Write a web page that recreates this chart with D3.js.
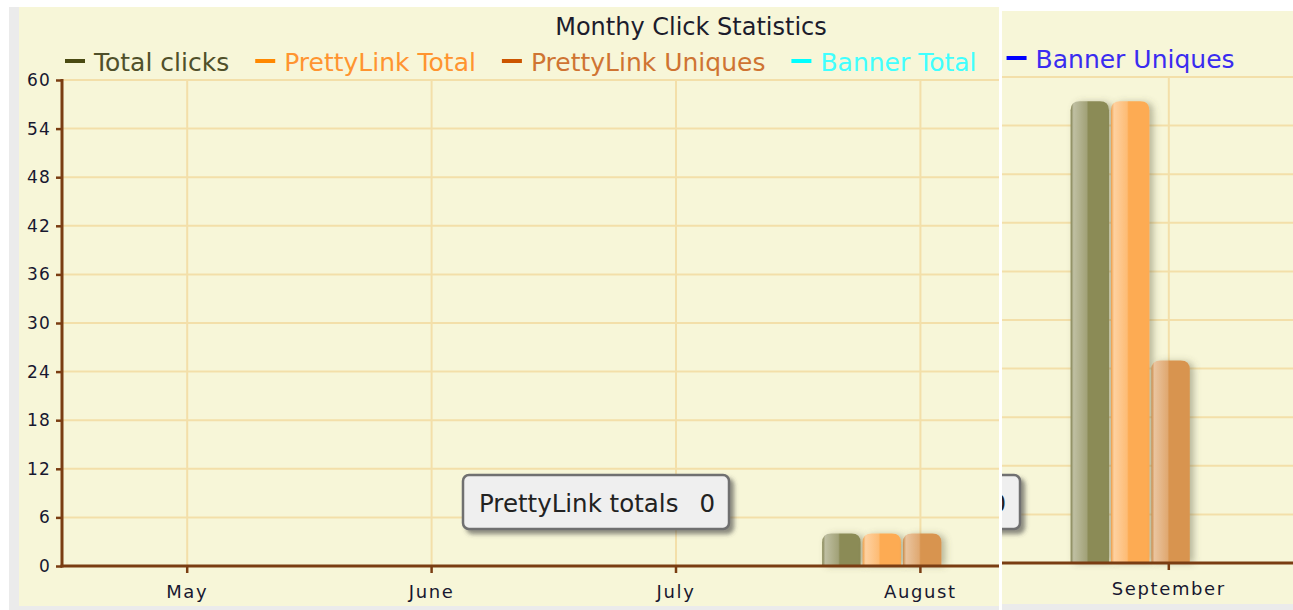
<!DOCTYPE html>
<html lang="en">
<head>
  <meta charset="utf-8">
  <title>Monthy Click Statistics</title>
  <script src="https://d3js.org/d3.v7.min.js"></script>
  <style>
    body { margin: 0; background: #fff; }
    svg text { font-family: "DejaVu Sans", Verdana, sans-serif; }
  </style>
</head>
<body>
  <div id="chart"></div>

  <script>
    "use strict"
    // dados
    var meses = ["May", "June", "July", "August", "September"];
    var nomesSeries = ["Total clicks", "PrettyLink Total", "PrettyLink Uniques", "Banner Total", "Banner Uniques"];
    var totalClicks = [0, 0, 0, 4, 57];
    var prettyLinkTotal = [0, 0, 0, 4, 57];
    var prettyLinkUniques = [0, 0, 0, 4, 25];
    var bannerTotal = [0, 0, 0, 0, 0];
    var bannerUniques = [0, 0, 0, 0, 0];
    var yTicks = [0, 6, 12, 18, 24, 30, 36, 42, 48, 54, 60];
    var tituloGrafico = "Monthy Click Statistics";
    var tooltipTexto = "PrettyLink totals";
    var tooltipValor = 0;

    var coresBarra = ["#8b8b56", "#fdab52", "#d8944f", "#00ffff", "#0000ff"];
    var coresTraco = ["#4a4a12", "#ff8800", "#cc5500", "#00ffff", "#0000ff"];
    var coresTexto = ["#50502a", "#ff9430", "#cf7432", "#40ffff", "#3a2cf0"];

    var valores = [totalClicks, prettyLinkTotal, prettyLinkUniques, bannerTotal, bannerUniques];

    var svg = d3.select('#chart').append('svg')
      .attr('width', 1293)
      .attr('height', 610);

    var defs = svg.append('defs');

    // brilho das barras
    coresBarra.forEach(function (cor, i) {
      var claro = d3.interpolateRgb(cor, "#ffffff");
      var grad = defs.append('linearGradient')
        .attr('id', 'grad' + i)
        .attr('x1', 0).attr('x2', 1).attr('y1', 0).attr('y2', 0);
      grad.append('stop').attr('offset', 0).attr('stop-color', d3.color(cor).darker(0.2));
      grad.append('stop').attr('offset', 0.08).attr('stop-color', claro(0.45));
      grad.append('stop').attr('offset', 0.42).attr('stop-color', claro(0.2));
      grad.append('stop').attr('offset', 0.46).attr('stop-color', cor);
      grad.append('stop').attr('offset', 1).attr('stop-color', cor);
    });

    var sombraBarra = defs.append('filter').attr('id', 'sombraBarra')
      .attr('x', -0.3).attr('y', -0.3).attr('width', 1.6).attr('height', 1.6);
    sombraBarra.append('feDropShadow')
      .attr('dx', 4).attr('dy', 1).attr('stdDeviation', 3.5)
      .attr('flood-color', '#5a5a40').attr('flood-opacity', 0.4);

    var sombraTip = defs.append('filter').attr('id', 'sombraTip')
      .attr('x', -0.2).attr('y', -0.3).attr('width', 1.4).attr('height', 1.7);
    sombraTip.append('feDropShadow')
      .attr('dx', 4).attr('dy', 4).attr('stdDeviation', 2)
      .attr('flood-color', '#444').attr('flood-opacity', 0.6);

    // escalas (coordenadas do primeiro quadro)
    var x0 = d3.scaleBand().domain(meses).range([65, 1287]);
    var x1 = d3.scaleBand().domain(nomesSeries).range([24, 224]).paddingInner(0.05);
    var y = d3.scaleLinear().domain([0, 60]).range([566, 80]);

    var corEixo = "#7a3d12", corGrade = "#f3dfa9", corFundo = "#f7f6d8", corCinza = "#ebebeb";

    function barra(xe, larg, topo, base, r) {
      r = Math.min(r, larg / 2, (base - topo) / 2);
      return "M" + xe + "," + base +
        "V" + (topo + r) +
        "Q" + xe + "," + topo + " " + (xe + r) + "," + topo +
        "H" + (xe + larg - r) +
        "Q" + (xe + larg) + "," + topo + " " + (xe + larg) + "," + (topo + r) +
        "V" + base + "Z";
    }

    function desenhaQuadro(q) {
      var g = svg.append('g');
      g.append('rect').attr('x', q.x - q.cinzaEsq).attr('y', q.y)
        .attr('width', q.w + q.cinzaEsq).attr('height', 610 - q.y).attr('fill', corCinza);
      g.append('rect').attr('x', q.x).attr('y', q.y)
        .attr('width', q.w).attr('height', q.h).attr('fill', corFundo);

      defs.append('clipPath').attr('id', 'clip' + q.id)
        .append('rect').attr('x', q.x).attr('y', q.y).attr('width', q.w).attr('height', q.h);

      var grafico = g.append('g').attr('clip-path', 'url(#clip' + q.id + ')')
        .append('g').attr('transform', 'translate(' + q.dx + ',' + q.dy + ')');

      // grade
      grafico.selectAll('.gh').data(yTicks.filter(d => d > 0)).enter()
        .append('line')
        .attr('x1', 62).attr('x2', 1290)
        .attr('y1', d => y(d)).attr('y2', d => y(d))
        .attr('stroke', corGrade).attr('stroke-width', 2);
      grafico.selectAll('.gv').data(meses).enter()
        .append('line')
        .attr('x1', d => x0(d) + x0.bandwidth() / 2).attr('x2', d => x0(d) + x0.bandwidth() / 2)
        .attr('y1', y(60)).attr('y2', y(0))
        .attr('stroke', corGrade).attr('stroke-width', 2);

      // titulo
      grafico.append('text')
        .attr('x', 691).attr('y', 35)
        .attr('text-anchor', 'middle')
        .attr('font-size', 24)
        .attr('fill', '#1c1c2c')
        .text(tituloGrafico);

      // legenda
      var xl = 65;
      nomesSeries.forEach(function (nome, i) {
        grafico.append('rect')
          .attr('x', xl).attr('y', 59).attr('width', 20).attr('height', 4)
          .attr('fill', coresTraco[i]);
        var t = grafico.append('text')
          .attr('x', xl + 29).attr('y', 71)
          .attr('font-size', 25)
          .attr('fill', coresTexto[i])
          .text(nome);
        xl += 29 + t.node().getComputedTextLength() + 26;
      });

      // barras
      nomesSeries.forEach(function (nome, i) {
        grafico.append('g')
          .attr('filter', 'url(#sombraBarra)')
          .selectAll('path')
          .data(meses.map((m, j) => ({ mes: m, valor: valores[i][j] })).filter(d => d.valor > 0))
          .enter()
          .append('path')
          .attr('d', d => barra(x0(d.mes) + x1(nome), x1.bandwidth(), y(d.valor), y(0) - 1, 9))
          .attr('fill', 'url(#grad' + i + ')');
      });

      // eixos
      var eixoY = grafico.append('g')
        .attr('transform', 'translate(62,0)')
        .call(d3.axisLeft(y).tickValues(yTicks).tickSize(6).tickSizeOuter(0).tickPadding(5));
      eixoY.select('.domain').remove();
      eixoY.selectAll('line').attr('stroke', corEixo).attr('stroke-width', 2.5);
      eixoY.selectAll('text')
        .attr('font-size', 17).attr('font-family', null)
        .attr('letter-spacing', 1.2)
        .attr('fill', '#181830');

      var eixoX = grafico.append('g')
        .attr('transform', 'translate(0,' + y(0) + ')')
        .call(d3.axisBottom(x0).tickSize(7).tickSizeOuter(0).tickPadding(12));
      eixoX.select('.domain').remove();
      eixoX.selectAll('line').attr('stroke', corEixo).attr('stroke-width', 2.5);
      eixoX.selectAll('text')
        .attr('font-size', 18).attr('font-family', null)
        .attr('letter-spacing', 1.6)
        .attr('fill', '#181830');

      grafico.append('line')
        .attr('x1', 62).attr('x2', 62).attr('y1', y(60) - 1).attr('y2', y(0) + 1.5)
        .attr('stroke', corEixo).attr('stroke-width', 3);
      grafico.append('line')
        .attr('x1', 60.5).attr('x2', 1290).attr('y1', y(0)).attr('y2', y(0))
        .attr('stroke', corEixo).attr('stroke-width', 3);

      // caixa de dica
      var tip = grafico.append('g').attr('transform', 'translate(' + q.tipX + ',' + q.tipY + ')');
      tip.append('rect')
        .attr('width', 266).attr('height', 54).attr('rx', 6)
        .attr('fill', '#efefef').attr('stroke', '#707070').attr('stroke-width', 2.5)
        .attr('filter', 'url(#sombraTip)');
      tip.append('text')
        .attr('x', 16).attr('y', 37).attr('font-size', 24.5).attr('fill', '#222')
        .text(tooltipTexto);
      tip.append('text')
        .attr('x', 252).attr('y', 37).attr('text-anchor', 'end')
        .attr('font-size', 24.5).attr('fill', '#222')
        .text(tooltipValor);

      // textos que ficam fora do quadro nao aparecem: tira do svg
      grafico.selectAll('text').each(function () {
        var b = this.getBoundingClientRect();
        if (b.right <= q.x || b.left >= q.x + q.w || b.bottom <= q.y || b.top >= q.y + q.h) {
          d3.select(this).remove();
        }
      });
    }

    desenhaQuadro({ id: 'a', x: 19, y: 7, w: 980, h: 599, cinzaEsq: 10, dx: 0, dy: 0, tipX: 463, tipY: 475 });
    desenhaQuadro({ id: 'b', x: 1002, y: 11, w: 291, h: 593, cinzaEsq: 0, dx: 4, dy: -3, tipX: 750, tipY: 478 });
  </script>
</body>
</html>
